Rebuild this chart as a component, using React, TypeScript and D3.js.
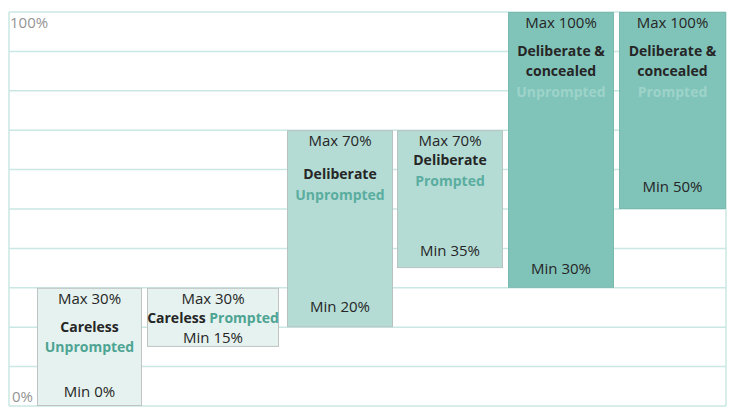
import React from "react";
import * as d3 from "d3";

const categories = ["Careless", "Careless", "Deliberate", "Deliberate", "Deliberate &\nconcealed", "Deliberate &\nconcealed"];
const prompts = ["Unprompted", "Prompted", "Unprompted", "Prompted", "Unprompted", "Prompted"];
const maxValues = [30, 30, 70, 70, 100, 100];
const minValues = [0, 15, 20, 35, 30, 50];
const yTicks = [0, 10, 20, 30, 40, 50, 60, 70, 80, 90, 100];
const axisLabels = ["0%", "100%"];

// layout
const W = 730, H = 413;
const LEFT = 9, RIGHT = 726, TOP = 12, BOTTOM = 406;
const barLefts = [37, 147, 287, 397, 508, 619];
const barRights = [142, 279, 393, 503, 614, 726];
const fills = ["#e5f2ef", "#e5f2ef", "#b4dcd5", "#b4dcd5", "#80c3b9", "#80c3b9"];
const strokes = ["#bfc4c3", "#bfc4c3", "#b8c2c0", "#b8c2c0", "#7ab9b0", "#7ab9b0"];
const promptColors = ["#4ea493", "#4ea493", "#5aad9f", "#5aad9f", "#9dd3c9", "#9dd3c9"];
// offsets from bar top for title line(s) and from bottom for min label
const titleOffsets = [39, 30, 44, 30, 39, 39];
const minOffsets = [14, 9, 20, 17, 19, 22];

const FONT = "'Open Sans', 'Noto Sans', sans-serif";

export default function App() {
  const y = d3.scaleLinear().domain([0, 100]).range([BOTTOM, TOP]);
  const dark = "#262626";
  return (
    <svg width={W} height={H} style={{ position: "absolute", left: 0, top: 0, background: "#fff" }} fontFamily={FONT}>
      {yTicks.map((t) => (
        <line key={t} x1={LEFT} x2={RIGHT} y1={y(t)} y2={y(t)} stroke="#c9e7e3" strokeWidth={1.5} />
      ))}
      <line x1={LEFT} x2={LEFT} y1={y(100)} y2={y(0)} stroke="#c9e7e3" strokeWidth={1.5} />
      <line x1={RIGHT} x2={RIGHT} y1={y(100)} y2={y(0)} stroke="#c9e7e3" strokeWidth={1.5} />
      <text x={10} y={y(100) + 16} fontSize={15} fill="#959595">{axisLabels[1]}</text>
      <text x={12} y={y(0) - 4} fontSize={15} fill="#959595">{axisLabels[0]}</text>
      {categories.map((c, i) => {
        const x0 = barLefts[i], x1 = barRights[i];
        const cx = (x0 + x1) / 2;
        const top = y(maxValues[i]);
        const bot = y(minValues[i]);
        const lines = c.split("\n");
        const inline = i === 1;
        return (
          <g key={i}>
            <rect x={x0 + 0.5} y={top + 0.5} width={x1 - x0 - 1} height={bot - top - 1} fill={fills[i]} stroke={strokes[i]} strokeWidth={1} />
            <text x={cx} y={top + 16} textAnchor="middle" fontSize={15} fill={dark}>{`Max ${maxValues[i]}%`}</text>
            {inline ? (
              <text x={cx} y={top + titleOffsets[i] + 5} textAnchor="middle" fontSize={14} fontWeight="bold" fill={dark}>
                {lines[0]} <tspan fill={promptColors[i]}>{prompts[i]}</tspan>
              </text>
            ) : (
              <>
                {lines.map((l, k) => (
                  <text key={k} x={cx} y={top + titleOffsets[i] + 5 + k * 20} textAnchor="middle" fontSize={14} fontWeight="bold" fill={dark}>{l}</text>
                ))}
                <text x={cx} y={top + titleOffsets[i] + 5 + lines.length * 20.5} textAnchor="middle" fontSize={14} fontWeight="bold" fill={promptColors[i]}>{prompts[i]}</text>
              </>
            )}
            <text x={cx} y={bot - minOffsets[i] + 5} textAnchor="middle" fontSize={15} fill={dark}>{`Min ${minValues[i]}%`}</text>
          </g>
        );
      })}
    </svg>
  );
}
